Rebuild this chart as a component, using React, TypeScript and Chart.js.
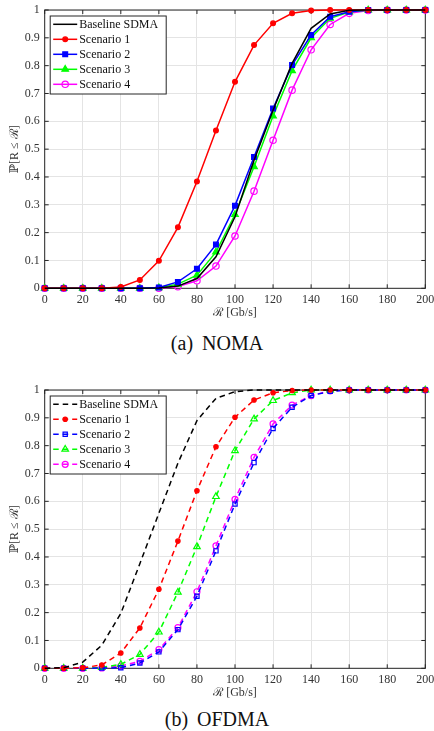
import React, { useEffect, useRef } from "react";
import { Chart, registerables } from "chart.js";
import { drawPoint } from "chart.js/helpers";

Chart.register(...registerables);

// ---------- data ----------
const rateGbps = [0, 10, 20, 30, 40, 50, 60, 70, 80, 90, 100, 110, 120, 130, 140, 150, 160, 170, 180, 190, 200];

// (a) NOMA
const nomaBaseline = [0, 0, 0, 0, 0, 0, 0.001, 0.008, 0.035, 0.113, 0.257, 0.46, 0.64, 0.808, 0.934, 0.986, 0.999, 1, 1, 1, 1];
const nomaScenario1 = [0, 0, 0, 0, 0.005, 0.03, 0.099, 0.219, 0.384, 0.567, 0.742, 0.874, 0.952, 0.988, 0.998, 1, 1, 1, 1, 1, 1];
const nomaScenario2 = [0, 0, 0, 0, 0, 0, 0.003, 0.023, 0.07, 0.157, 0.297, 0.472, 0.646, 0.802, 0.91, 0.976, 0.994, 1, 1, 1, 1];
const nomaScenario3 = [0, 0, 0, 0, 0, 0, 0.002, 0.015, 0.047, 0.13, 0.265, 0.437, 0.619, 0.782, 0.9, 0.97, 0.993, 1, 1, 1, 1];
const nomaScenario4 = [0, 0, 0, 0, 0, 0, 0, 0.006, 0.027, 0.08, 0.188, 0.349, 0.532, 0.712, 0.857, 0.948, 0.988, 0.998, 1, 1, 1];

// (b) OFDMA
const ofdmaBaseline = [0, 0.002, 0.022, 0.083, 0.197, 0.376, 0.557, 0.737, 0.89, 0.97, 0.994, 1, 1, 1, 1, 1, 1, 1, 1, 1, 1];
const ofdmaScenario1 = [0, 0, 0.002, 0.012, 0.055, 0.145, 0.284, 0.457, 0.638, 0.796, 0.902, 0.964, 0.99, 0.998, 1, 1, 1, 1, 1, 1, 1];
const ofdmaScenario2 = [0, 0, 0, 0.001, 0.002, 0.019, 0.059, 0.139, 0.259, 0.422, 0.59, 0.739, 0.862, 0.938, 0.98, 0.995, 1, 1, 1, 1, 1];
const ofdmaScenario3 = [0, 0, 0, 0.003, 0.014, 0.05, 0.13, 0.273, 0.437, 0.617, 0.782, 0.896, 0.962, 0.99, 1, 1, 1, 1, 1, 1, 1];
const ofdmaScenario4 = [0, 0, 0, 0.001, 0.008, 0.025, 0.067, 0.146, 0.275, 0.44, 0.607, 0.758, 0.878, 0.946, 0.98, 0.997, 1, 1, 1, 1, 1];

const seriesNames = ["Baseline SDMA", "Scenario 1", "Scenario 2", "Scenario 3", "Scenario 4"];
const seriesColors = ["#000000", "#ff0000", "#0000ff", "#00ff00", "#ff00ff"];

const xAxisTitle = "ℛ [Gb/s]";
const yAxisTitle = "ℙ[R ≤ ℛ]";
const captions = ["(a) NOMA", "(b) OFDMA"];

// ---------- styling ----------
const SERIF = '"Liberation Serif", "Times New Roman", "DejaVu Serif", serif';
const AXIS_COLOR = "#262626";

type Marker = { style: string | false; radius: number; filled: boolean };

const nomaMarkers: Marker[] = [
  { style: false, radius: 0, filled: false },
  { style: "circle", radius: 2.4, filled: true },
  { style: "rect", radius: 3.4, filled: true },
  { style: "triangle", radius: 3.8, filled: true },
  { style: "circle", radius: 3.2, filled: false },
];
const ofdmaMarkers: Marker[] = [
  { style: false, radius: 0, filled: false },
  { style: "circle", radius: 2.2, filled: true },
  { style: "rect", radius: 3.0, filled: false },
  { style: "triangle", radius: 3.8, filled: false },
  { style: "circle", radius: 3.0, filled: false },
];

function buildDatasets(series: number[][], markers: Marker[], dashed: boolean) {
  return series.map((vals, i) => ({
    label: seriesNames[i],
    data: rateGbps.map((x, j) => ({ x, y: vals[j] })),
    borderColor: seriesColors[i],
    backgroundColor: seriesColors[i],
    borderWidth: 1.5,
    borderDash: dashed ? [5.5, 4] : [],
    pointStyle: markers[i].style,
    pointRadius: markers[i].style ? markers[i].radius : 0,
    pointBorderWidth: 1.2,
    pointBorderColor: seriesColors[i],
    pointBackgroundColor: markers[i].filled ? seriesColors[i] : "rgba(0,0,0,0)",
    tension: 0,
    clip: false as const,
  }));
}

const framePlugin = {
  id: "matlabFrame",
  beforeDatasetsDraw(chart: any) {
    const { ctx, chartArea: a, scales } = chart;
    ctx.save();
    ctx.strokeStyle = AXIS_COLOR;
    ctx.lineWidth = 1;
    ctx.strokeRect(a.left, a.top, a.right - a.left, a.bottom - a.top);
    const tl = 4;
    ctx.beginPath();
    scales.x.ticks.forEach((t: any) => {
      const px = scales.x.getPixelForValue(t.value);
      ctx.moveTo(px, a.bottom);
      ctx.lineTo(px, a.bottom - tl);
      ctx.moveTo(px, a.top);
      ctx.lineTo(px, a.top + tl);
    });
    scales.y.ticks.forEach((t: any) => {
      const py = scales.y.getPixelForValue(t.value);
      ctx.moveTo(a.left, py);
      ctx.lineTo(a.left + tl, py);
      ctx.moveTo(a.right, py);
      ctx.lineTo(a.right - tl, py);
    });
    ctx.stroke();
    ctx.restore();
  },
};

const legendPlugin = {
  id: "insideLegend",
  afterDraw(chart: any) {
    const { ctx, chartArea: a } = chart;
    const bx = a.left + 5.5;
    const by = a.top + 6;
    const bw = 116;
    const bh = 78;
    ctx.save();
    ctx.fillStyle = "#ffffff";
    ctx.fillRect(bx, by, bw, bh);
    ctx.strokeStyle = AXIS_COLOR;
    ctx.lineWidth = 1;
    ctx.strokeRect(bx, by, bw, bh);
    chart.data.datasets.forEach((ds: any, i: number) => {
      const y = by + 8.3 + i * 15;
      ctx.save();
      ctx.strokeStyle = ds.borderColor;
      ctx.lineWidth = 1.5;
      ctx.setLineDash(ds.borderDash || []);
      ctx.beginPath();
      ctx.moveTo(bx + 3, y);
      ctx.lineTo(bx + 27, y);
      ctx.stroke();
      ctx.setLineDash([]);
      if (ds.pointStyle) {
        ctx.fillStyle = ds.pointBackgroundColor;
        ctx.strokeStyle = ds.pointBorderColor;
        ctx.lineWidth = ds.pointBorderWidth;
        drawPoint(ctx, { pointStyle: ds.pointStyle, rotation: 0, radius: ds.pointRadius, borderWidth: ds.pointBorderWidth }, bx + 15, y);
      }
      ctx.restore();
      ctx.fillStyle = "#111111";
      ctx.font = `12px ${SERIF}`;
      ctx.textBaseline = "middle";
      ctx.textAlign = "left";
      ctx.fillText(ds.label, bx + 29, y + 0.5);
    });
    ctx.restore();
  },
};

function CdfPanel({ series, markers, dashed }: { series: number[][]; markers: Marker[]; dashed: boolean }) {
  const ref = useRef<HTMLCanvasElement | null>(null);
  useEffect(() => {
    if (!ref.current) return;
    const tickFont = { family: SERIF, size: 12 };
    const chart = new Chart(ref.current, {
      type: "line",
      data: { datasets: buildDatasets(series, markers, dashed) as any },
      options: {
        animation: false,
        responsive: false,
        devicePixelRatio: 1,
        layout: { padding: { top: 10, right: 8.7, bottom: 0, left: 0 } },
        plugins: { legend: { display: false }, tooltip: { enabled: false } },
        scales: {
          x: {
            type: "linear",
            min: 0,
            max: 200,
            ticks: { stepSize: 20, font: tickFont, color: "#333333", padding: 4, maxRotation: 0, autoSkip: false },
            grid: { color: "#e4e4e4", drawTicks: false, lineWidth: 1 },
            border: { display: false },
            title: { display: true, text: xAxisTitle, font: { family: SERIF, size: 12 }, color: "#333333", padding: { top: 0, bottom: 2 } },
            afterFit: (s: any) => {
              s.paddingLeft = 0;
              s.paddingRight = 0;
              s.height = 33.7;
            },
          },
          y: {
            type: "linear",
            min: 0,
            max: 1,
            ticks: {
              stepSize: 0.1,
              font: tickFont,
              color: "#333333",
              padding: 5,
              autoSkip: false,
              callback: (v: any) => (v === 0 ? "0" : Math.abs(v - 1) < 1e-9 ? "1" : Number(v).toFixed(1)),
            },
            grid: { color: "#e4e4e4", drawTicks: false, lineWidth: 1 },
            border: { display: false },
            title: { display: true, text: yAxisTitle, font: { family: SERIF, size: 12 }, color: "#333333", padding: { top: 8, bottom: 0 } },
            afterFit: (s: any) => {
              s.paddingTop = 0;
              s.paddingBottom = 0;
              s.width = 44.7;
            },
          },
        },
      },
      plugins: [framePlugin, legendPlugin],
    });
    return () => chart.destroy();
  }, [series, markers, dashed]);
  return <canvas ref={ref} width={434} height={322} style={{ display: "block" }} />;
}

const nomaSeries = [nomaBaseline, nomaScenario1, nomaScenario2, nomaScenario3, nomaScenario4];
const ofdmaSeries = [ofdmaBaseline, ofdmaScenario1, ofdmaScenario2, ofdmaScenario3, ofdmaScenario4];

export default function App() {
  const captionStyle: React.CSSProperties = {
    position: "absolute",
    left: 0,
    width: 434,
    textAlign: "center",
    fontFamily: SERIF,
    fontSize: 20,
    lineHeight: "20px",
    color: "#111111",
    wordSpacing: 4,
    whiteSpace: "nowrap",
  };
  return (
    <div style={{ position: "absolute", left: 0, top: 0, width: 434, height: 731, overflow: "hidden", background: "#ffffff" }}>
      <div style={{ position: "absolute", left: 0, top: 0 }}>
        <CdfPanel series={nomaSeries} markers={nomaMarkers} dashed={false} />
      </div>
      <div style={{ ...captionStyle, top: 333 }}>{captions[0]}</div>
      <div style={{ position: "absolute", left: 0, top: 380 }}>
        <CdfPanel series={ofdmaSeries} markers={ofdmaMarkers} dashed={true} />
      </div>
      <div style={{ ...captionStyle, top: 709 }}>{captions[1]}</div>
    </div>
  );
}
